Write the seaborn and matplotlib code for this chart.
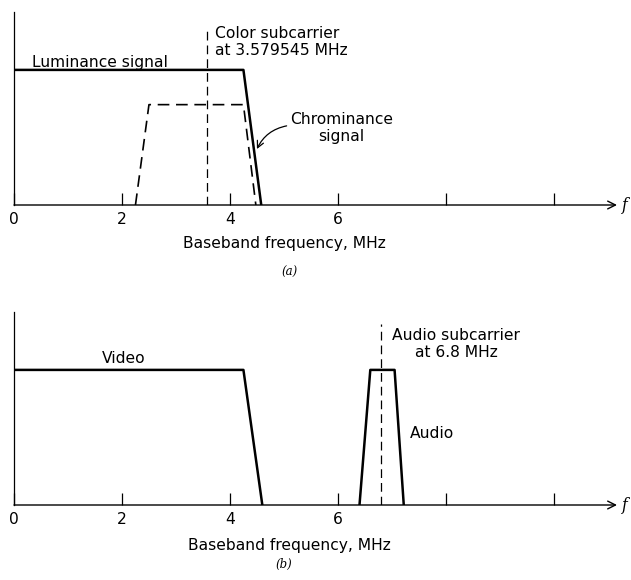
import matplotlib
matplotlib.use("Agg")
import matplotlib.pyplot as plt
import matplotlib.transforms as mtransforms
import seaborn as sns
import pandas as pd

sns.set_theme(style="white")
plt.rcParams["font.family"] = ["DejaVu Sans"]
plt.rcParams["text.color"] = "black"
plt.rcParams["xtick.color"] = "black"
plt.rcParams["axes.labelcolor"] = "black"

# Baseband spectrum outlines (frequency in MHz, relative amplitude)
lum_f = [0.0, 4.25, 4.58]
lum_a = [0.70, 0.70, 0.0]

chroma_f = [2.25, 2.50, 4.25, 4.48]
chroma_a = [0.0, 0.52, 0.52, 0.0]

video_f = [0.0, 4.25, 4.60]
video_a = [0.70, 0.70, 0.0]

audio_f = [6.40, 6.60, 7.05, 7.22]
audio_a = [0.0, 0.70, 0.70, 0.0]

color_subcarrier = 3.579545
audio_subcarrier = 6.8

tick_pos = [0, 2, 4, 6, 8, 10]
tick_lab = ["0", "2", "4", "6", "", ""]

XMAX = 11.17
W, H = 631, 580
FS = 11.2

fig = plt.figure(figsize=(W / 100, H / 100), dpi=100)
ax_a = fig.add_axes([14 / W, 1 - 205 / H, 603 / W, 193 / H])
ax_b = fig.add_axes([14 / W, 1 - 505 / H, 603 / W, 193 / H])


def style_axis(ax):
    ax.set_xlim(0, XMAX)
    ax.set_ylim(0, 1)
    for side in ("top", "right", "bottom"):
        ax.spines[side].set_visible(False)
    ax.spines["left"].set_color("black")
    ax.spines["left"].set_linewidth(0.9)
    ax.set_yticks([])
    ax.set_xticks(tick_pos)
    ax.set_xticklabels(tick_lab)
    ax.tick_params(axis="x", direction="in", length=9, width=0.9,
                   color="black", labelcolor="black", pad=5,
                   labelsize=FS, bottom=True)
    ax.set_facecolor("white")
    # frequency axis drawn as an arrow
    ax.annotate("", xy=(XMAX, 0), xytext=(0, 0),
                xycoords="data", textcoords="data",
                arrowprops=dict(arrowstyle="->", lw=1.0, color="black",
                                shrinkA=0, shrinkB=0,
                                mutation_scale=14),
                annotation_clip=False)
    ax.text(XMAX + 0.1, 0, "f", fontsize=FS, style="italic",
            family="DejaVu Serif", ha="left", va="center")


# (a) luminance and chrominance
style_axis(ax_a)
sns.lineplot(data=pd.DataFrame({"f": lum_f, "a": lum_a}), x="f", y="a",
             ax=ax_a, color="black", lw=1.8, sort=False)
sns.lineplot(data=pd.DataFrame({"f": chroma_f, "a": chroma_a}), x="f", y="a",
             ax=ax_a, color="black", lw=1.2, sort=False,
             linestyle=(0, (7, 4)))
ax_a.plot([color_subcarrier, color_subcarrier], [0, 0.90], color="black",
          lw=0.9, linestyle=(0, (7, 4)))
ax_a.set_xlabel("")
ax_a.set_ylabel("")

ax_a.text(1.6, 0.74, "Luminance signal", fontsize=FS, ha="center", va="center")
ax_a.text(3.72, 0.845, "Color subcarrier\nat 3.579545 MHz", fontsize=FS,
          ha="left", va="center", linespacing=1.15)
ax_a.text(6.07, 0.40, "Chrominance\nsignal", fontsize=FS, ha="center",
          va="center", linespacing=1.15)
ax_a.annotate("", xy=(4.50, 0.29), xytext=(5.05, 0.41),
              arrowprops=dict(arrowstyle="->", lw=0.9, color="black",
                              connectionstyle="arc3,rad=0.25",
                              shrinkA=0, shrinkB=0))

blend_a = mtransforms.blended_transform_factory(ax_a.transData, ax_a.transAxes)
ax_a.text(5.0, -0.197, "Baseband frequency, MHz", fontsize=FS,
          ha="center", va="center", transform=blend_a)
ax_a.text(5.1, -0.347, "(a)", fontsize=8.5, style="italic", family="DejaVu Serif",
          ha="center", va="center", transform=blend_a)

# (b) video and audio
style_axis(ax_b)
sns.lineplot(data=pd.DataFrame({"f": video_f, "a": video_a}), x="f", y="a",
             ax=ax_b, color="black", lw=1.8, sort=False)
sns.lineplot(data=pd.DataFrame({"f": audio_f, "a": audio_a}), x="f", y="a",
             ax=ax_b, color="black", lw=1.8, sort=False)
ax_b.plot([audio_subcarrier, audio_subcarrier], [0, 0.94], color="black",
          lw=0.9, linestyle=(0, (7, 4)))
ax_b.set_xlabel("")
ax_b.set_ylabel("")

ax_b.text(2.04, 0.76, "Video", fontsize=FS, ha="center", va="center")
ax_b.text(8.19, 0.834, "Audio subcarrier\nat 6.8 MHz", fontsize=FS,
          ha="center", va="center", linespacing=1.15)
ax_b.text(7.33, 0.368, "Audio", fontsize=FS, ha="left", va="center")

blend_b = mtransforms.blended_transform_factory(ax_b.transData, ax_b.transAxes)
ax_b.text(5.1, -0.212, "Baseband frequency, MHz", fontsize=FS,
          ha="center", va="center", transform=blend_b)
ax_b.text(5.0, -0.31, "(b)", fontsize=8.5, style="italic", family="DejaVu Serif",
          ha="center", va="center", transform=blend_b)

fig.savefig("out.png", dpi=100, facecolor="white")
